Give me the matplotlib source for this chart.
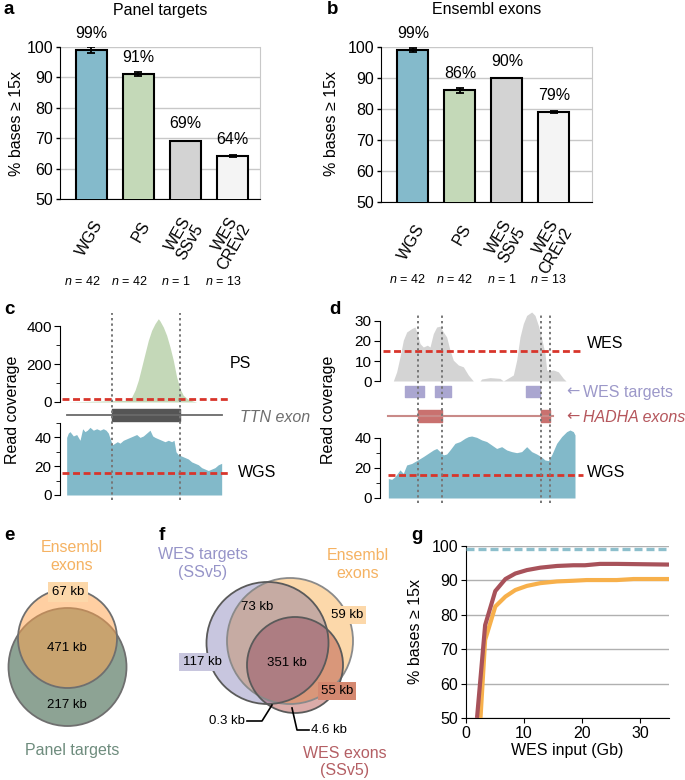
import numpy as np
import matplotlib
matplotlib.use("Agg")
import matplotlib.pyplot as plt
from matplotlib.patches import Circle

plt.rcParams['font.family'] = ['Liberation Sans', 'DejaVu Sans']
plt.rcParams['mathtext.fontset'] = 'custom'
plt.rcParams['mathtext.it'] = 'Liberation Sans:italic'
plt.rcParams['mathtext.rm'] = 'Liberation Sans'

# ---- data ----
categories = ["WGS", "PS", "WES\nSSv5", "WES\nCREv2"]
n_samples = [42, 42, 1, 13]
bar_colors = ["#84bacb", "#c4d9b8", "#d3d3d3", "#f4f4f4"]
panel_vals = [99.0, 91.2, 69.2, 64.1]
panel_err = [1.0, 0.7, 0.0, 0.4]
ensembl_vals = [99.1, 86.1, 90.1, 79.1]
ensembl_err = [0.6, 0.8, 0.0, 0.3]

# panel c (position in arbitrary units along the TTN locus)
c_exon = [335, 540]
c_track = [200, 665]
c_pos_ps = [200, 385, 395, 405, 415, 425, 435, 445, 455, 465, 475, 480, 490, 500,
            510, 520, 530, 540, 550, 565, 580, 590, 665]
c_ps = [0, 9, 26, 62, 115, 185, 256, 326, 379, 414, 440, 428, 396, 352,
        291, 220, 132, 70, 35, 14, 4, 0, 0]
c_pos_wgs = [200, 205, 210, 220, 230, 240, 248, 255, 262, 270, 280, 290, 300, 310,
             318, 325, 332, 338, 345, 352, 360, 370, 380, 390, 400, 410, 420, 430,
             440, 450, 458, 465, 475, 485, 495, 505, 515, 522, 528, 535, 545, 555,
             565, 575, 585, 595, 605, 615, 625, 635, 645, 655, 665]
c_wgs = [40, 43, 44, 41, 42, 38, 46, 44, 45, 47, 45, 46, 45, 46,
         45, 43, 38, 35, 36, 37, 36, 38, 39, 40, 41, 42, 40, 41,
         43, 45, 41, 40, 39, 38, 37, 38, 37, 38, 30, 28, 27, 26,
         25, 23, 22, 21, 19, 18, 17, 18, 19, 21, 22]

# panel d (position along HADHA locus)
d_bounds = [233, 305, 603, 630]
d_targets = [(195, 253), (285, 333), (557, 600)]
d_exons = [(233, 305), (603, 630)]
d_track = [145, 640]
d_pos_wes = [160, 170, 180, 190, 200, 215, 225, 232, 240, 250, 262, 270, 280, 290,
             300, 310, 320, 330, 340, 355, 370, 385, 400, 420, 425, 450, 480, 490,
             500, 520, 530, 540, 550, 560, 575, 585, 595, 605, 615, 620, 625, 640,
             655, 670, 678]
d_wes = [0, 4.6, 12, 20.4, 24.5, 26.2, 27, 23.7, 18.7, 17, 17.9, 17, 23.7, 27,
         27.4, 24.5, 22, 15.4, 10.4, 8, 7.1, 3, 0, 0, 1, 1.7, 1.3, 0,
         1, 3, 10.4, 22, 28.7, 32.8, 34.5, 32.8, 27.8, 21.2, 13.8, 5.5, 5.1, 5.5,
         4.6, 1.3, 0]
d_pos_wgs = [145, 155, 165, 180, 190, 200, 215, 233, 250, 265, 280, 290, 300, 310,
             320, 330, 345, 360, 375, 385, 395, 410, 425, 440, 455, 470, 485, 500,
             515, 530, 545, 560, 575, 590, 603, 615, 625, 635, 650, 665, 680, 690,
             700, 705]
d_wgs = [13, 12.4, 14.2, 18.7, 16.4, 22, 23, 25.3, 27.6, 29.8, 32, 33, 30.9, 28.7,
         29.3, 32, 36.4, 37.6, 39.8, 40.9, 41.3, 40.4, 38.7, 37.6, 35.3, 33, 34.2, 32,
         30.9, 30.2, 30.9, 34.2, 30.9, 29.3, 27.6, 25.3, 24.9, 28.7, 36.4, 40.9, 44.2, 45.3,
         44.2, 42]
threshold = 15

# panel e / f venn (circle centres and radii in layout units)
venn_e = {"Panel targets": ((67.5, 667), 59), "Ensembl exons": ((67.5, 638.5), 49.5)}
venn_e_labels = [("67 kb", 68, 592), ("471 kb", 67, 648), ("217 kb", 67, 705)]
venn_f = {"Ensembl exons": ((290, 641), 63), "WES exons": ((295, 665), 48),
          "WES targets": ((267.5, 643), 61)}

# panel g
g_red_x = [1.9, 3.3, 5.05, 6.8, 8.5, 10.5, 12.8, 15.7, 18.5, 20.5, 23.1, 26, 35]
g_red_y = [50, 77, 86.9, 90.4, 92, 93, 93.7, 94.2, 94.4, 94.4, 94.8, 94.8, 94.6]
g_org_x = [2.5, 3.3, 5.05, 6.8, 8.5, 10.5, 12.8, 15.7, 18.5, 20.8, 23.1, 26, 28.9, 35]
g_org_y = [50, 72.7, 82.4, 85.3, 87.2, 88.4, 89.2, 89.7, 89.9, 90.1, 90.1, 90.1, 90.4, 90.4]
g_wgs = 99.2

# ---- layout helpers ----
W, H = 685, 780
FS = 11.5
fig = plt.figure(figsize=(W / 100, H / 100), dpi=100)


def add_ax(l, t, r, b):
    return fig.add_axes([l / W, 1 - b / H, (r - l) / W, (b - t) / H])


def ftext(x, y, s, **kw):
    kw.setdefault("fontsize", FS)
    kw.setdefault("va", "center")
    fig.text(x / W, 1 - y / H, s, **kw)


RED = "#d8352b"
TEAL = "#82b9c9"


def bar_panel(ax, vals, errs, title, xlim, n_dx, n_y):
    x = np.arange(len(categories))
    ax.set_axisbelow(True)
    ax.yaxis.grid(True, color="#c8c8c8", lw=1)
    ax.bar(x, vals, width=0.66, color=bar_colors, edgecolor="black", lw=1.5, zorder=3)
    for i, (v, e) in enumerate(zip(vals, errs)):
        if e > 0:
            ax.errorbar(i, v, yerr=e, fmt="none", ecolor="black", elinewidth=1.3,
                        capsize=3, capthick=1.3, zorder=4)
        ax.annotate(f"{v:.0f}%", (i, v), xytext=(0, 12), textcoords="offset points",
                    ha="center", va="center", fontsize=FS)
    ax.set_ylim(50, 100)
    ax.set_yticks(range(50, 101, 10))
    ax.set_xlim(*xlim)
    ax.set_xticks([])
    ax.spines["top"].set_visible(False)
    ax.spines["right"].set_color("#c8c8c8")
    ax.tick_params(axis="y", labelsize=FS, length=3, width=1, pad=2)
    tr = ax.get_xaxis_transform()
    for i, lab in enumerate(categories):
        ax.text(i + 0.17, -0.15, lab, transform=tr, rotation=60, rotation_mode="anchor",
                ha="right", va="center", multialignment="right", fontsize=FS,
                linespacing=1.0)
        ax.text(i + n_dx, n_y, rf"$n$ = {n_samples[i]}", transform=tr, ha="center",
                va="center", fontsize=9)
    ax.text(0.5, 1 + 37 / 152, title, transform=ax.transAxes, ha="center",
            va="center", fontsize=FS)


# ---- a / b ----
ax_a = add_ax(60, 47, 260, 199)
bar_panel(ax_a, panel_vals, panel_err, "Panel targets", (-0.67, 3.585), -0.2, -0.54)
ax_b = add_ax(381, 47, 592, 202)
bar_panel(ax_b, ensembl_vals, ensembl_err, "Ensembl exons", (-0.68, 3.81), -0.12, -0.503)
ftext(17, 123, "% bases ≥ 15x", rotation=90, ha="center")
ftext(332, 123, "% bases ≥ 15x", rotation=90, ha="center")


def cov_axis(ax, xlim, ylim, major, minor, bounds):
    ax.set_xlim(*xlim)
    ax.set_ylim(*ylim)
    for s in ["top", "right", "bottom"]:
        ax.spines[s].set_visible(False)
    ax.spines["left"].set_bounds(*bounds)
    ax.set_xticks([])
    ax.set_yticks(major)
    ax.set_yticks(minor, minor=True)
    ax.tick_params(axis="y", which="major", labelsize=11, length=4, pad=2)
    ax.tick_params(axis="y", which="minor", length=3)
    ax.patch.set_visible(False)


def hdash(ax, y, x0, x1):
    ax.hlines(y, x0, x1, colors=RED, lw=2, linestyles=(0, (2.5, 1.3)), zorder=5,
              clip_on=False)


# ---- c ----
c_xlim = (180, 696)
ax_c1 = add_ax(60, 314, 232, 402)
ax_c1.fill_between(c_pos_ps, c_ps, color="#c4d8b8", lw=0)
cov_axis(ax_c1, c_xlim, (0, 465), [0, 200, 400], [100, 300], (0, 400))
hdash(ax_c1, threshold, 185, 690)

ax_c2 = add_ax(60, 423, 232, 495)
ax_c2.fill_between(c_pos_wgs, c_wgs, color=TEAL, lw=0)
cov_axis(ax_c2, c_xlim, (0, 50), [0, 20, 40], [10, 30, 50], (0, 50))
hdash(ax_c2, threshold, 185, 690)

ax_ct = add_ax(60, 405, 232, 425)
ax_ct.set_xlim(*c_xlim)
ax_ct.set_ylim(0, 1)
ax_ct.axis("off")
ax_ct.plot(c_track, [0.5, 0.5], color="#6a6a6a", lw=1.3)
ax_ct.broken_barh([(c_exon[0], c_exon[1] - c_exon[0])], (0.2, 0.6), color="#555555")

ax_co = add_ax(60, 313, 232, 500)
ax_co.set_xlim(*c_xlim)
ax_co.set_ylim(0, 1)
ax_co.axis("off")
ax_co.vlines(c_exon, 0, 1, colors="#777777", lw=1.4, linestyles=(0, (1.2, 1.6)))

ftext(12, 410, "Read coverage", rotation=90, ha="center")
ftext(230, 363, "PS")
ftext(238, 473, "WGS")
ftext(240, 417, "TTN exon", style="italic", color="#6e6e6e")

# ---- d ----
d_xlim = (120, 735)
ax_d1 = add_ax(380, 311, 585, 381)
ax_d1.fill_between(d_pos_wes, d_wes, color="#d4d4d4", lw=0)
cov_axis(ax_d1, d_xlim, (0, 35), [0, 10, 20, 30], [], (0, 30))
hdash(ax_d1, threshold, 130, 730)

ax_d2 = add_ax(380, 427, 585, 498)
ax_d2.fill_between(d_pos_wgs, d_wgs, color=TEAL, lw=0)
cov_axis(ax_d2, d_xlim, (0, 47.3), [0, 20, 40], [10, 30], (0, 40))
hdash(ax_d2, threshold, 145, 730)

ax_dt = add_ax(380, 384, 585, 399)
ax_dt.set_xlim(*d_xlim)
ax_dt.set_ylim(0, 1)
ax_dt.axis("off")
ax_dt.broken_barh([(a, b - a) for a, b in d_targets], (0.13, 0.74), color="#aaa6d0")

ax_de = add_ax(380, 408, 585, 424)
ax_de.set_xlim(*d_xlim)
ax_de.set_ylim(0, 1)
ax_de.axis("off")
ax_de.plot(d_track, [0.5, 0.5], color="#c98a88", lw=1.5)
ax_de.broken_barh([(a, b - a) for a, b in d_exons], (0.12, 0.76), color="#c9716f")

ax_do = add_ax(380, 313, 585, 503)
ax_do.set_xlim(*d_xlim)
ax_do.set_ylim(0, 1)
ax_do.axis("off")
ax_do.vlines(d_bounds, 0, 1, colors="#777777", lw=1.4, linestyles=(0, (1.2, 1.6)))

ftext(329, 410, "Read coverage", rotation=90, ha="center")
ftext(587, 343, "WES")
ftext(587, 473, "WGS")
ftext(566, 392, "←", color="#9c98c9", family="DejaVu Sans")
ftext(583, 392, "WES targets", color="#9c98c9")
ftext(566, 417, "←", color="#b5565c", family="DejaVu Sans")
ftext(583, 417, "HADHA exons", color="#b5565c", style="italic")

# ---- e / f ----
ax_v = add_ax(0, 520, 400, 780)
ax_v.set_xlim(0, 400)
ax_v.set_ylim(780, 520)
ax_v.axis("off")

KB = 9.5
(cg, rg), (co, ro) = venn_e["Panel targets"], venn_e["Ensembl exons"]
ax_v.add_patch(Circle(cg, rg, fc="#8da394", ec="#6f6f6f", lw=1.3))
ax_v.add_patch(Circle(co, ro, fc="#ffa44e", alpha=0.52, ec="none"))
ax_v.add_patch(Circle(co, ro, fc="none", ec="#6f6f6f", lw=1.3))
for s, x, y in venn_e_labels:
    kw = dict(ha="center", va="center", fontsize=KB)
    if s == "67 kb":
        kw["bbox"] = dict(boxstyle="square,pad=0.3", fc="#fcd8aa", ec="none")
    ax_v.text(x, y, s, **kw)
ax_v.text(72, 557, "Ensembl\nexons", ha="center", va="center", fontsize=FS,
          color="#f5b262", linespacing=1.25)
ax_v.text(72, 750, "Panel targets", ha="center", va="center", fontsize=FS,
          color="#6e8c7d")

(cO, rO) = venn_f["Ensembl exons"]
(cR, rR) = venn_f["WES exons"]
(cL, rL) = venn_f["WES targets"]
ax_v.add_patch(Circle(cO, rO, fc="#fcd8aa", ec="none"))
ax_v.add_patch(Circle(cR, rR, fc="#b04840", alpha=0.45, ec="none"))
ax_v.add_patch(Circle(cL, rL, fc="#4a4495", alpha=0.3, ec="none"))
ax_v.add_patch(Circle(cO, rO, fc="none", ec="#8a8a8a", lw=1.3))
ax_v.add_patch(Circle(cR, rR, fc="none", ec="#5a5a5a", lw=1.3))
ax_v.add_patch(Circle(cL, rL, fc="none", ec="#5a5a5a", lw=1.3))
ax_v.text(257, 607, "73 kb", ha="center", va="center", fontsize=KB)
ax_v.text(287, 663, "351 kb", ha="center", va="center", fontsize=KB)
ax_v.text(347, 615, "59 kb", ha="center", va="center", fontsize=KB,
          bbox=dict(boxstyle="square,pad=0.25", fc="#fcd8aa", ec="none"))
ax_v.text(202, 662, "117 kb", ha="center", va="center", fontsize=KB,
          bbox=dict(boxstyle="square,pad=0.25", fc="#c8c6de", ec="none"))
ax_v.text(337, 691, "55 kb", ha="center", va="center", fontsize=KB,
          bbox=dict(boxstyle="square,pad=0.25", fc="#d48870", ec="none"))
ax_v.text(245, 721, "0.3 kb", ha="right", va="center", fontsize=KB)
ax_v.plot([247, 262, 272], [721, 721, 705], color="black", lw=1.2)
ax_v.text(311, 730, "4.6 kb", ha="left", va="center", fontsize=KB)
ax_v.plot([309, 297, 292], [730, 730, 708], color="black", lw=1.2)
ax_v.text(203, 564, "WES targets\n(SSv5)", ha="center", va="center", fontsize=FS,
          color="#9694c8", linespacing=1.25)
ax_v.text(358, 564, "Ensembl\nexons", ha="center", va="center", fontsize=FS,
          color="#f5b262", linespacing=1.25)
ax_v.text(345, 762, "WES exons\n(SSv5)", ha="center", va="center", fontsize=FS,
          color="#b45f64", linespacing=1.25)

# ---- g ----
ax_g = add_ax(466, 546, 669, 718)
ax_g.set_axisbelow(True)
ax_g.yaxis.grid(True, color="#b0b0b0", lw=1)
ax_g.plot(g_org_x, g_org_y, color="#f7b04b", lw=3, solid_capstyle="butt", zorder=3)
ax_g.plot(g_red_x, g_red_y, color="#a8525a", lw=3, solid_capstyle="butt", zorder=4)
ax_g.axhline(g_wgs, color="#8dbfcc", lw=2.4, linestyle=(0, (2.4, 1.2)), clip_on=False,
             zorder=5)
ax_g.set_xlim(0, 35)
ax_g.set_ylim(50, 100)
ax_g.set_xticks([0, 10, 20, 30])
ax_g.set_yticks(range(50, 101, 10))
ax_g.spines["top"].set_visible(False)
ax_g.spines["right"].set_visible(False)
ax_g.tick_params(labelsize=FS, length=3.5, pad=2)
ax_g.set_xlabel("WES input (Gb)", fontsize=FS, labelpad=2)
ftext(415, 632, "% bases ≥ 15x", rotation=90, ha="center")

# ---- panel letters ----
for s, x, y in [("a", 4, 10), ("b", 327, 10), ("c", 4, 310), ("d", 329, 310),
                ("e", 4, 535), ("f", 159, 535), ("g", 411, 535)]:
    ftext(x, y, s, fontsize=13.5, fontweight="bold", ha="left")

fig.savefig("out.png", dpi=100)
